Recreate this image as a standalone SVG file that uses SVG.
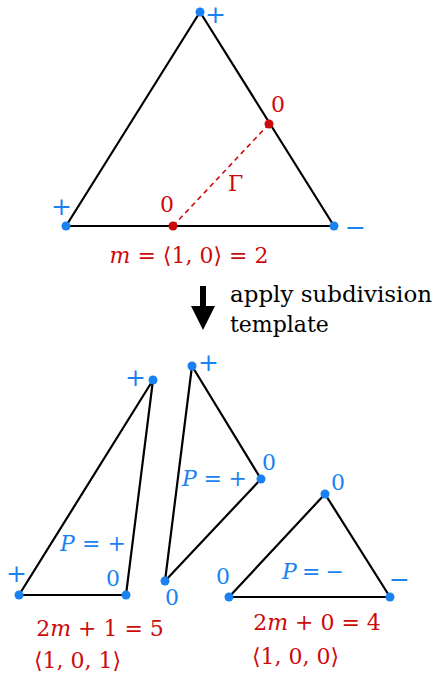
<svg xmlns="http://www.w3.org/2000/svg" width="435" height="679" viewBox="0 0 435 679">
<style>
.edge{stroke:#000;stroke-width:2.2;fill:none;stroke-linejoin:round}
.bp{fill:#1a82f0}
.rp{fill:#cc0a0a}
text{font-family:'DejaVu Serif','Liberation Serif',serif;font-size:22px}
.bt{fill:#1a82f0}
.rt{fill:#cc0a0a}
.bk{fill:#000}
.sg{font-size:25px}
.it{font-style:italic}
</style>
<defs>
<marker id="ah" markerWidth="4" markerHeight="4" refX="2" refY="2" orient="auto" markerUnits="strokeWidth">
<path d="M0,0 L4,2 L0,4 Z" fill="#000"/>
</marker>
</defs>
<g id="connectors">
<line x1="173" y1="226" x2="269" y2="124" stroke="#cc0a0a" stroke-width="1.6" stroke-dasharray="5,4"/>
<line x1="203" y1="286" x2="203" y2="318" stroke="#000" stroke-width="6" marker-end="url(#ah)"/>
</g>
<g id="original">
<polygon class="edge" points="200,12 66,226 334,226"/>
<circle class="bp" cx="200" cy="12" r="4.5"/>
<circle class="bp" cx="66" cy="226" r="4.5"/>
<circle class="bp" cx="334" cy="226" r="4.5"/>
<circle class="rp" cx="269" cy="124" r="4.5"/>
<circle class="rp" cx="173" cy="226" r="4.5"/>
<text class="bt sg" x="205" y="23">+</text>
<text class="bt sg" x="51" y="215">+</text>
<text class="bt sg" x="345" y="236">−</text>
<text class="rt" x="271" y="112">0</text>
<text class="rt" x="160" y="212">0</text>
<text class="rt" x="228" y="191">Γ</text>
<text class="rt" x="189" y="263" text-anchor="middle"><tspan class="it">m</tspan> = ⟨1, 0⟩ = 2</text>
</g>
<g id="caption">
<text class="bk" x="230" y="302" textLength="202" lengthAdjust="spacingAndGlyphs">apply subdivision</text>
<text class="bk" x="230" y="332">template</text>
</g>
<g id="tri1">
<polygon class="edge" points="153,380 19,595 126,595"/>
<circle class="bp" cx="153" cy="380" r="4.5"/>
<circle class="bp" cx="19" cy="595" r="4.5"/>
<circle class="bp" cx="126" cy="595" r="4.5"/>
<text class="bt sg" x="125" y="386">+</text>
<text class="bt sg" x="6" y="582">+</text>
<text class="bt" x="106" y="586">0</text>
<text class="bt" x="60" y="551" textLength="66"><tspan class="it">P</tspan>=+</text>
<text class="rt" x="100" y="636" text-anchor="middle">2<tspan class="it">m</tspan> + 1 = 5</text>
<text class="rt" x="34" y="668">⟨1, 0, 1⟩</text>
</g>
<g id="tri2">
<polygon class="edge" points="192,366 165,581 261,479"/>
<circle class="bp" cx="192" cy="366" r="4.5"/>
<circle class="bp" cx="165" cy="581" r="4.5"/>
<circle class="bp" cx="261" cy="479" r="4.5"/>
<text class="bt sg" x="198" y="371">+</text>
<text class="bt" x="262" y="470">0</text>
<text class="bt" x="165" y="605">0</text>
<text class="bt" x="182" y="486" textLength="65"><tspan class="it">P</tspan>=+</text>
</g>
<g id="tri3">
<polygon class="edge" points="325,494 229,597 390,597"/>
<circle class="bp" cx="325" cy="494" r="4.5"/>
<circle class="bp" cx="229" cy="597" r="4.5"/>
<circle class="bp" cx="390" cy="597" r="4.5"/>
<text class="bt" x="331" y="490">0</text>
<text class="bt" x="216" y="584">0</text>
<text class="bt sg" x="389" y="588">−</text>
<text class="bt" x="282" y="579" textLength="62"><tspan class="it">P</tspan>=−</text>
<text class="rt" x="317" y="630" text-anchor="middle">2<tspan class="it">m</tspan> + 0 = 4</text>
<text class="rt" x="252" y="664">⟨1, 0, 0⟩</text>
</g>
</svg>
